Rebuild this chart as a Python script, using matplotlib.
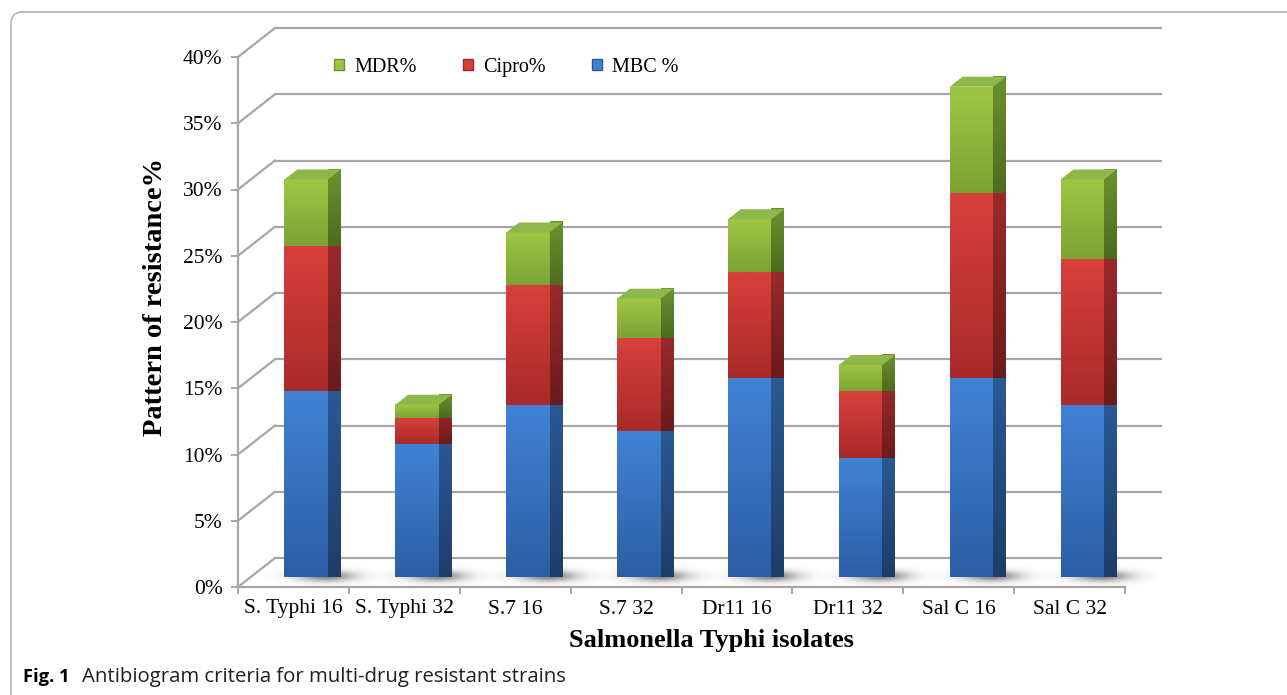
import numpy as np
import matplotlib
matplotlib.use('Agg')
import matplotlib.pyplot as plt
from matplotlib.patches import Polygon, Patch, FancyBboxPatch
from matplotlib.transforms import IdentityTransform

# isolates and resistance percentages (stacked: MBC, Cipro, MDR)
isolates = ["S. Typhi 16", "S. Typhi 32", "S.7 16", "S.7 32",
            "Dr11 16", "Dr11 32", "Sal C 16", "Sal C 32"]
mbc = [14, 10, 13, 11, 15, 9, 15, 13]
cipro = [11, 2, 9, 7, 8, 5, 14, 11]
mdr = [5, 1, 4, 3, 4, 2, 8, 6]
yticks = [0, 5, 10, 15, 20, 25, 30, 35, 40]

W, H = 1287, 695
plt.rcParams['font.family'] = ['Liberation Serif', 'DejaVu Serif']
fig = plt.figure(figsize=(W / 100, H / 100), dpi=100)

# plot area in pixels: front axis runs x 238..1125, y 587 (0%)..57 (40%)
x0, x1, y0, y1 = 238, 1125, 587, 57
ax = fig.add_axes([x0 / W, (H - y0) / H, (x1 - x0) / W, (y0 - y1) / H])
ax.set_xlim(-0.5, len(isolates) - 0.5)
ax.set_ylim(0, 40)
ax.patch.set_alpha(0)

px_x = (len(isolates)) / (x1 - x0)   # data units per pixel, x
px_y = 40 / (y0 - y1)                # data units per pixel, y
DX, DY = 37 * px_x, 29 * px_y        # full depth offset of the back wall
F0, F1 = 0.345, 0.69                 # bar depth range
BW = 43.5 * px_x                     # bar width
grid_col = '#a6a6a6'


def proj(x, y, d):
    return (x + d * DX, y + d * DY)


def shaded(verts, top, bot, z):
    poly = Polygon(verts, closed=True, facecolor='none', edgecolor='none',
                   zorder=z, clip_on=False)
    ax.add_patch(poly)
    xs = [v[0] for v in verts]
    ys = [v[1] for v in verts]
    grad = np.linspace(0, 1, 64)[:, None]
    c_top = np.array(matplotlib.colors.to_rgb(top))
    c_bot = np.array(matplotlib.colors.to_rgb(bot))
    img = (c_top[None, None, :] * (1 - grad[..., None]) +
           c_bot[None, None, :] * grad[..., None]) * np.ones((64, 2, 1))
    im = ax.imshow(img, extent=(min(xs), max(xs), min(ys), max(ys)),
                   origin='upper', aspect='auto', zorder=z, clip_on=False,
                   interpolation='bilinear')
    im.set_clip_path(poly)


# back wall gridlines and left wall diagonals
xa, xb = -0.5, len(isolates) - 0.5
for v in yticks:
    ax.plot([xa + DX, xb + DX], [v + DY, v + DY], color=grid_col, lw=1.6,
            clip_on=False, zorder=1, solid_capstyle='butt')
    ax.plot([xa, xa + DX], [v, v + DY], color=grid_col, lw=1.6,
            clip_on=False, zorder=1)

# soft shadow on the floor, fades to nothing before the image edge
sx = np.linspace(-3.5, 3.5, 160)
sy = np.linspace(-3.5, 3.5, 60)
gx, gy = np.meshgrid(sx, sy)
blob = np.exp(-(gx ** 2 + gy ** 2) / 2.0)
shadow = np.zeros((60, 160, 4))
shadow[..., :3] = 0.28
shadow[..., 3] = 0.7 * blob

colors = {
    'MBC': ('#4182d4', '#2c5ea6', '#2b5b96', '#1d3d69', '#4a86cf'),
    'Cipro': ('#d8403c', '#a92a2a', '#9e2b2b', '#6c1b1b', '#d9504a'),
    'MDR': ('#9fc643', '#7da334', '#6b912d', '#4d6b1f', '#8fb84a'),
}

for i, name in enumerate(isolates):
    xl = i - BW / 2
    xr = i + BW / 2
    cx, cy = proj(i + 16 * px_x, 0, 0.45)
    ax.imshow(shadow, extent=(cx - 70 * px_x, cx + 70 * px_x,
                              cy - 16 * px_y, cy + 12 * px_y),
              aspect='auto', zorder=2, clip_on=False, interpolation='bilinear')
    base = 0
    for key, vals in (('MBC', mbc), ('Cipro', cipro), ('MDR', mdr)):
        top = base + vals[i]
        ft, fb, st, sb, tc = colors[key]
        front = [proj(xl, base, F0), proj(xr, base, F0),
                 proj(xr, top, F0), proj(xl, top, F0)]
        side = [proj(xr, base, F0), proj(xr, base, F1),
                proj(xr, top, F1), proj(xr, top, F0)]
        shaded(front, ft, fb, 4)
        shaded(side, st, sb, 4)
        if key == 'MDR':
            lid = [proj(xl, top, F0), proj(xr, top, F0),
                   proj(xr, top, F1), proj(xl, top, F1)]
            ax.add_patch(Polygon(lid, closed=True, facecolor=tc,
                                 edgecolor='none', zorder=5, clip_on=False))
        base = top

# axes lines and ticks
for s in ('top', 'right'):
    ax.spines[s].set_visible(False)
for s in ('left', 'bottom'):
    ax.spines[s].set_color(grid_col)
    ax.spines[s].set_linewidth(1.6)
    ax.spines[s].set_zorder(3)
ax.set_yticks(yticks)
ax.set_yticklabels([f"{v}%" for v in yticks], fontsize=15.5)
ax.set_xticks(range(len(isolates)))
ax.set_xticklabels(isolates, fontsize=15.5)
ax.set_xticks(np.arange(-0.5, len(isolates)), minor=True)
ax.tick_params(axis='x', which='major', length=0, pad=9)
ax.tick_params(axis='x', which='minor', length=5, color=grid_col, width=1.4)
ax.tick_params(axis='y', length=5, color=grid_col, width=1.4, pad=6)

handles = [Patch(facecolor=colors['MDR'][0], edgecolor='#6b912d'),
           Patch(facecolor=colors['Cipro'][0], edgecolor='#9e2b2b'),
           Patch(facecolor=colors['MBC'][0], edgecolor='#2b5b96')]
ax.legend(handles, ['MDR%', 'Cipro%', 'MBC %'], ncol=3, frameon=False,
          prop={'family': 'Liberation Serif', 'size': 14.5},
          loc='center left', bbox_to_anchor=(0.088, 0.981),
          handlelength=0.5, handleheight=0.5, handletextpad=0.5,
          columnspacing=2.3)

fig.text(155 / W, 1 - 297 / H, 'Pattern of resistance%', rotation=90,
         fontsize=20.5, fontweight='bold', ha='center', va='center')
fig.text(711 / W, 1 - 640 / H, 'Salmonella Typhi isolates',
         fontsize=19, fontweight='bold', ha='center', va='center')

# caption and frame
fig.text(23 / W, 1 - 677 / H, 'Fig. 1', fontsize=13.2, fontweight='bold',
         family=['Open Sans', 'DejaVu Sans'], va='center', ha='left')
fig.text(82 / W, 1 - 677 / H,
         'Antibiogram criteria for multi-drug resistant strains',
         fontsize=14.7, family=['Open Sans', 'DejaVu Sans'],
         va='center', ha='left', color='#231f20')
frame = FancyBboxPatch((11, -40), W + 40, H - 12 + 40,
                       boxstyle='round,pad=0,rounding_size=12',
                       transform=IdentityTransform(), facecolor='none',
                       edgecolor='#b4b4b4', lw=1.2)
fig.add_artist(frame)

fig.savefig('out.png', dpi=100)
